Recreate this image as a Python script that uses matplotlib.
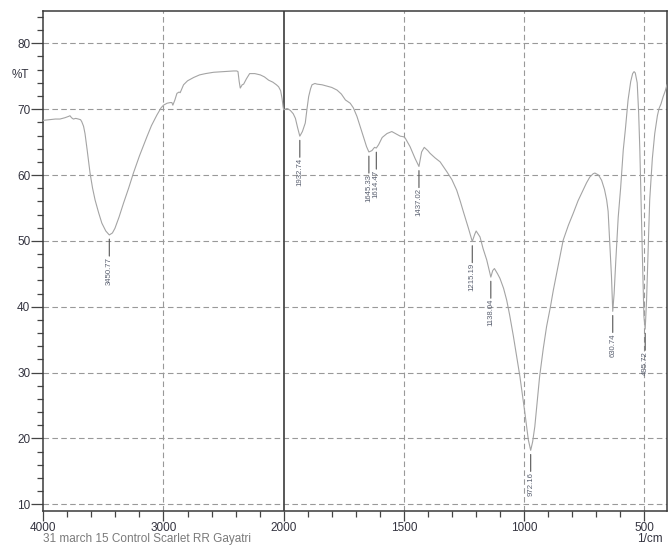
import numpy as np
import matplotlib
matplotlib.use("Agg")
import matplotlib.pyplot as plt
from matplotlib.ticker import FixedLocator, FixedFormatter

plt.rcParams['font.family'] = ['Liberation Sans', 'DejaVu Sans']

# FTIR spectrum: wavenumber (1/cm) and transmittance (%T)
wavenumber = [
    4000, 3950, 3900, 3861, 3820, 3790, 3778, 3765, 3750, 3730, 3708, 3690, 3680,
    3665, 3653, 3635, 3611, 3590, 3569, 3540, 3513, 3480, 3450.77, 3425, 3404,
    3370, 3333, 3290, 3250, 3200, 3138, 3100, 3055, 3020, 3000, 2970, 2944, 2930,
    2922, 2905, 2888, 2870, 2861, 2845, 2833, 2800, 2750, 2700, 2650, 2583, 2500,
    2417, 2390, 2380, 2370, 2361, 2345, 2333, 2310, 2283, 2240, 2194, 2160, 2125,
    2090, 2060, 2042, 2025, 2013, 2005, 2000, 1993, 1986, 1980, 1972, 1960, 1951,
    1942, 1932.74, 1922, 1910, 1903, 1896, 1888, 1882, 1870, 1861, 1840, 1820,
    1800, 1778, 1760, 1743, 1723, 1710, 1695, 1680, 1668, 1655, 1645.33, 1633,
    1622, 1614.47, 1605, 1590, 1570, 1550, 1535, 1515, 1500, 1494, 1474, 1453,
    1437.02, 1426, 1415, 1400, 1391, 1370, 1349, 1321, 1300, 1280, 1265, 1252,
    1231, 1215.19, 1205, 1199, 1190, 1183, 1170, 1155, 1138.04, 1130, 1123, 1110,
    1100, 1085, 1072, 1060, 1044, 1030, 1017, 1005, 996, 982, 972.16, 964, 955,
    945, 935, 920, 906, 890, 878, 860, 837, 815, 795, 775, 754, 740, 726, 712,
    705, 690, 677, 665, 656, 650, 643, 636, 630.74, 625, 618, 608, 598, 587, 578,
    567, 556, 548, 542, 537, 529, 523, 518, 513, 508, 501, 495.72, 490, 484, 477,
    466, 456, 445, 438, 430, 421, 412, 405,
]
transmittance = [
    68.3, 68.4, 68.5, 68.5, 68.7, 68.9, 69.0, 68.7, 68.5, 68.6, 68.5, 68.4, 68.1,
    67.4, 66.3, 63.8, 60.3, 58.0, 56.2, 54.3, 52.7, 51.5, 50.9, 51.2, 51.9,
    53.6, 55.7, 58.0, 60.3, 62.9, 65.8, 67.5, 69.1, 70.2, 70.6, 70.9, 71.0, 71.0,
    70.6, 71.4, 72.4, 72.6, 72.5, 73.2, 73.7, 74.3, 74.8, 75.2, 75.4, 75.6, 75.7,
    75.8, 75.8, 75.7, 74.2, 73.2, 73.7, 73.8, 74.6, 75.4, 75.4, 75.2, 74.9, 74.4,
    74.1, 73.7, 73.4, 72.8, 71.6, 70.4, 69.9, 70.0, 70.1, 70.0, 69.8, 69.3, 68.6,
    67.2, 65.9, 66.6, 67.9, 70.0, 71.9, 73.1, 73.7, 73.9, 73.8, 73.7, 73.5,
    73.3, 72.9, 72.3, 71.4, 70.9, 70.2, 68.9, 67.2, 65.8, 64.3, 63.5, 63.7,
    64.2, 64.1, 64.6, 65.7, 66.3, 66.6, 66.3, 65.9, 65.8, 65.6, 64.3, 62.5,
    61.3, 63.5, 64.2, 63.7, 63.3, 62.6, 62.0, 60.5, 59.3, 57.7, 56.0, 54.4,
    51.9, 49.9, 51.0, 51.5, 51.0, 50.6, 48.8, 47.1, 44.5, 45.5, 45.8, 45.0,
    44.3, 42.8, 41.0, 38.8, 35.5, 32.3, 29.4, 26.2, 23.8, 19.8, 18.2, 19.5, 21.8,
    25.6, 29.4, 33.6, 37.0, 40.0, 42.5, 45.8, 50.1, 52.4, 54.2, 56.1, 57.7, 58.8, 59.7, 60.2,
    60.3, 60.0, 59.2, 57.8, 56.2, 54.5, 49.6, 44.6, 39.3, 42.0, 47.0, 53.6, 58.0, 63.8, 67.0,
    71.4, 74.2, 75.4, 75.7, 75.5, 74.0, 69.5, 63.8, 56.0, 48.6, 38.5, 36.6, 41.0, 48.0, 56.2,
    62.5, 66.3, 69.0, 70.1, 70.8, 71.9, 72.8, 73.7,
]

# Labelled absorption peaks
peak_wavenumbers = [3450.77, 1932.74, 1645.33, 1614.47, 1437.02,
                    1215.19, 1138.04, 972.16, 630.74, 495.72]
peak_labels = ["3450.77", "1932.74", "1645.33", "1614.47", "1437.02",
               "1215.19", "1138.04", "972.16", "630.74", "495.72"]

x_major = [4000, 3000, 2000, 1500, 1000, 500]
x_major_labels = ["4000", "3000", "2000", "1500", "1000", "500"]
x_minor = list(range(2200, 4000, 200)) + list(range(600, 2000, 100))
y_major = [10, 20, 30, 40, 50, 60, 70, 80]
y_minor = list(range(10, 85, 2))


# Two-part wavenumber axis: 1000 1/cm per unit above 2000, 500 1/cm per unit below
def _fwd(x):
    x = np.asarray(x, dtype=float)
    return np.where(x >= 2000, x / 1000.0, x / 500.0 - 2.0)


def _inv(u):
    u = np.asarray(u, dtype=float)
    return np.where(u >= 2, u * 1000.0, (u + 2.0) * 500.0)


fig = plt.figure(figsize=(6.70, 5.46), dpi=100)
ax = fig.add_axes([43.3 / 670, 1 - 510.7 / 546, (667 - 43.3) / 670, (510.7 - 10.7) / 546])
ax.set_xscale('function', functions=(_fwd, _inv))
ax.set_xlim(4000, 405)
ax.set_ylim(9.03, 84.95)

grid_color = '#999999'
dash = (0, (5, 3))
for yv in y_major:
    ax.axhline(yv, color=grid_color, lw=0.8, ls=dash, zorder=1)
for xv in [3000, 1500, 1000, 500]:
    ax.axvline(xv, color=grid_color, lw=0.8, ls=dash, zorder=1)
ax.axvline(2000, color='#4a4a4a', lw=1.3, zorder=2)

ax.plot(wavenumber, transmittance, color='#a4a4a4', lw=0.8, zorder=3)

label_color = '#5a6070'
wn_arr = np.array(wavenumber)
tr_arr = np.array(transmittance)
for w, lab in zip(peak_wavenumbers, peak_labels):
    t = tr_arr[np.argmin(np.abs(wn_arr - w))]
    ax.annotate('', xy=(w, t), xytext=(0, -15.2), textcoords='offset points',
                arrowprops=dict(arrowstyle='-', color='#555555', lw=0.8,
                                shrinkA=0, shrinkB=3.0), zorder=4)
    ax.annotate(lab, xy=(w, t), xytext=(0, -15.6), textcoords='offset points',
                rotation=90, ha='center', va='top', fontsize=5.6,
                color=label_color, zorder=4)

ax.xaxis.set_major_locator(FixedLocator(x_major))
ax.xaxis.set_major_formatter(FixedFormatter(x_major_labels))
ax.xaxis.set_minor_locator(FixedLocator(x_minor))
ax.yaxis.set_major_locator(FixedLocator(y_major))
ax.yaxis.set_minor_locator(FixedLocator(y_minor))
ax.yaxis.set_minor_formatter(plt.NullFormatter())
ax.xaxis.set_minor_formatter(plt.NullFormatter())

tick_text = '#343440'
ax.tick_params(axis='x', which='major', direction='out', length=7.2, width=0.9,
               color='#444444', labelsize=8.5, labelcolor=tick_text, pad=1)
ax.tick_params(axis='x', which='minor', direction='out', length=4.2, width=0.9,
               color='#444444')
ax.tick_params(axis='y', which='major', direction='out', length=8.3, width=0.9,
               color='#444444', labelsize=8.5, labelcolor=tick_text, pad=1)
ax.tick_params(axis='y', which='minor', direction='out', length=4.3, width=0.9,
               color='#444444')

for side in ['left', 'right', 'top', 'bottom']:
    ax.spines[side].set_color('#3a3a3a')
    ax.spines[side].set_linewidth(1.1)

fig.text(29.5 / 670, 1 - 74.5 / 546, '%T', ha='right', va='center',
         fontsize=8.5, color=tick_text)
fig.text(663 / 670, 1 - 539 / 546, '1/cm', ha='right', va='center',
         fontsize=8.5, color=tick_text)
fig.text(43 / 670, 1 - 539 / 546, '31 march 15 Control Scarlet RR Gayatri',
         ha='left', va='center', fontsize=8.5, color='#7a7a7a')

fig.savefig('out.png', dpi=100)
